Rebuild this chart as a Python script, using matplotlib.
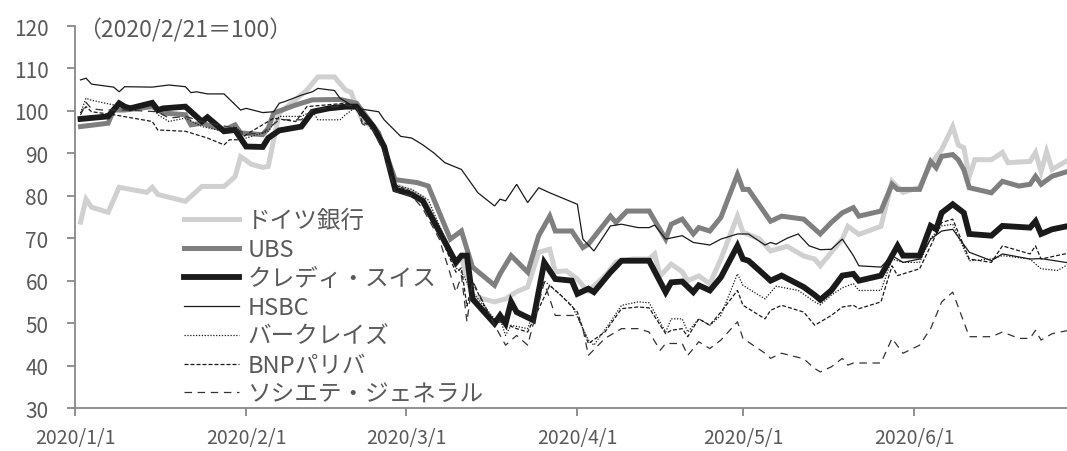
import matplotlib
matplotlib.use("Agg")
import matplotlib.pyplot as plt
import matplotlib.dates as mdates
import pandas as pd

plt.rcParams['font.family'] = ['Noto Sans CJK JP', 'DejaVu Sans']

# ---- data (days since 2020/1/1, index 2020/2/21 = 100) ----
DB_DAY = [1,2,3,6,8,13,14,15,20,23,27,29,30,32,34,35,37,38,42,44,47,49,50,51,52,54,56,58,61,63,66,69,70,72,76,78,80,82,84,86,87,89,91,92,93,96,98,101,104,105,106,108,110,111,113,115,117,120,121,124,126,129,132,134,135,137,139,140,142,146,148,150,153,155,157,159,160,161,162,163,166,168,169,173,174,175,176,177,180]
DB_VAL = [73.8,79.2,77.3,76.1,82.0,80.8,82.0,80.3,78.7,82.2,82.2,84.5,89.2,87.4,86.7,86.9,99.5,100.5,104.9,108.0,108.0,104.9,104.4,101,98,96,91.5,82.5,81,79.5,72,64,65.5,56.4,55.0,55.7,57.4,58.5,66.7,67.4,62.1,62.3,60.4,58.8,57.6,61.1,64.4,65.1,65.1,66.3,61.1,63.9,62.1,60.0,61.1,59.3,65.1,75.2,71.4,69.8,67.0,68.1,65.8,65.1,63.5,66.7,69.8,72.8,70.9,72.8,83.4,80.8,82.0,87.4,90.9,96.3,92.0,91.3,84.5,88.5,88.5,90.2,87.8,88.1,90.2,85.7,90.4,86.2,88.5]

UBS_DAY = [1,6,7,9,14,16,20,21,23,27,29,30,34,35,36,40,43,48,51,55,58,62,64,67,68,70,72,76,77,79,82,84,86,87,90,92,93,97,98,100,104,107,108,110,112,113,115,117,120,121,122,126,128,132,135,137,139,141,142,146,148,149,153,155,156,157,159,160,161,162,166,168,171,173,174,175,177,180]
UBS_VAL = [96.3,97.1,100.2,100.2,101,99.5,99.1,96.7,97.1,95.5,96.7,94.8,94.4,95.9,99.5,101.4,102.6,102.7,101.8,94.8,83.8,83.1,82.3,72.9,69.8,71.7,63.2,58.9,61.6,65.9,62.0,70.6,75.2,71.7,71.7,67.8,68.6,75.2,73.7,76.4,76.4,69.8,73.3,74.5,71.0,72.5,71.7,74.9,85.0,81.5,81.5,74.0,75.2,74.5,71.0,73.7,76.0,77.2,75.2,76.4,82.7,81.5,81.5,88.1,86.6,89.3,89.7,88.5,86.2,81.9,80.7,83.4,82.3,82.7,84.6,82.7,84.6,85.8]

CS_DAY = [1,6,8,9,10,14,15,16,20,23,24,27,29,31,34,35,37,41,43,46,49,51,54,56,58,61,63,69,70,71,72,76,77,78,79,80,83,85,87,90,91,93,94,97,99,102,104,107,108,110,112,113,115,117,120,121,122,125,126,128,132,134,135,137,139,141,142,146,149,150,153,155,156,157,159,161,162,166,168,173,174,175,177,180]
CS_VAL = [98.1,98.7,101.8,101,100.6,101.9,100.2,100.6,101,97.5,98.5,95.2,95.5,91.6,91.5,93.6,95.4,96.3,99.8,100.6,101,101,96.3,91.6,81.5,80.3,78.8,64.3,65.9,65.9,55.7,49.9,51.8,49.9,55.0,52.6,50.7,64.3,60.4,60.0,56.9,58.1,57.3,62.0,64.7,64.7,64.7,57.3,59.6,59.8,57.3,58.9,57.7,60.8,68.2,65.1,64.7,61.2,60.0,61.2,58.5,56.6,55.5,57.7,61.2,61.6,60.0,61.2,68.2,65.9,65.9,72.9,72.1,76.0,78.0,76.0,71.0,70.6,72.9,72.5,74.0,71.0,72.1,72.9]

HSBC_DAY = [1,2,3,7,8,9,14,17,20,21,22,24,27,30,31,34,36,37,38,41,43,44,47,48,51,53,55,56,59,61,63,65,67,70,73,76,77,78,80,82,84,86,91,92,94,97,99,102,104,105,107,110,112,115,117,120,122,125,126,127,129,131,133,135,137,139,141,142,146,148,150,153,155,157,159,162,166,168,173,175,180]
HSBC_VAL = [107.3,107.7,106.3,105.6,104.5,105.7,105.6,106.1,105.7,104.3,104.5,104,104,100.2,100.6,99.6,99.8,101.8,102.2,103.7,104.5,105.3,104.8,103,100.6,100.2,99.8,97.9,94,93.6,92,90.1,87.8,86.2,80.7,77.6,79.2,78.8,82.7,78.4,81.9,80.7,78,69.8,67,72.9,73.3,72.5,72.5,73.1,69.8,70.6,69,68.4,69.8,71,71,68.4,69,68.6,70,71,68.2,67.3,67.4,69.8,65.9,63.5,63.2,65.9,64.3,65.1,69.8,71.7,72.1,66.7,64.7,66.3,65.1,65.2,64.2]

BAR_DAY = [1,2,3,7,9,14,15,17,20,23,27,29,31,35,37,41,43,44,48,49,51,54,56,58,61,64,67,69,70,72,76,77,78,79,82,85,90,93,94,97,99,102,104,107,108,110,111,113,115,117,120,121,125,127,131,134,135,137,139,141,142,146,148,150,153,155,157,159,162,166,168,173,175,178,180]
BAR_VAL = [99.5,103,102.5,101.4,101,101.4,99.1,97.5,98.3,96.3,95.2,96.3,93.6,95.2,98.7,98.7,100,97.9,97.9,99.1,101,97,92.5,82.5,81.5,79,70,63,62,57.3,51,51,47.1,49.5,48.7,60,54.2,46,44.8,50.3,54.2,55,54.8,47.9,51,51,47.9,51,49.5,51.8,61.6,58.9,55.7,58.7,57.7,55,54.3,56.6,58.3,59.3,57.7,57.7,65.1,64.3,64.3,70,72.9,73.3,64.7,65.1,65.9,65.1,62.8,62.4,63.9]

BNP_DAY = [1,2,3,7,14,15,20,24,27,28,30,31,36,40,42,49,51,52,54,56,58,61,63,66,69,70,71,72,76,77,80,82,86,88,91,92,93,96,99,102,104,107,108,110,111,113,115,117,120,121,125,126,128,132,134,137,139,141,142,146,148,149,153,155,157,159,162,166,168,173,174,175,180]
BNP_VAL = [99.5,101,99.8,99.1,97.5,95.5,95.2,93.6,92,93.2,93.2,94.4,98.3,97.5,101,101.8,101,97.5,96,91,82.5,81,79,71,62,63,54,59.6,49.5,50.3,48.7,47.9,58.9,56.6,52.6,48.7,45.2,47.9,53.4,53.8,53.6,47.5,48.3,48.7,46.8,51,49.5,52.6,57.7,54.2,51,53,54.2,52.6,49.5,51.8,53.8,54.2,53.4,55,63.5,61.2,62.8,68.2,73.7,74.5,65.1,64.3,68.2,66.3,68.2,65.1,66.5]

SG_DAY = [1,2,3,5,9,15,17,20,23,29,31,34,37,41,43,47,49,51,52,54,56,58,61,63,66,69,70,71,72,76,78,80,82,85,87,91,92,93,96,99,102,104,106,107,110,111,113,115,117,120,121,125,126,128,132,134,135,137,139,140,141,146,148,150,153,155,157,159,162,166,168,171,173,174,175,177,180]
SG_VAL = [99,102,100.5,100.2,100.2,99.8,98.3,98.7,97.5,95.9,94.5,94.8,97.9,97.9,100.2,101,101.4,101,97,95.5,90,81,80,77,69.8,57.3,61.2,50.3,60,49.5,44.8,47.1,44.8,59.6,51.8,51.8,48.7,42.4,46.4,48.7,48.7,47.9,43.6,45.2,45.2,42.4,45.6,44,46,50.3,46.4,42.9,41.7,42.9,41.6,39.3,38.5,39.7,41.7,40.1,40.6,40.6,46.4,42.9,44.8,48.7,55,57.3,46.8,46.8,47.9,46.4,46.4,48.3,46,47.5,48.3]

LABELS = ["ドイツ銀行", "UBS", "クレディ・スイス", "HSBC", "バークレイズ", "BNPパリバ", "ソシエテ・ジェネラル"]
X_TICKS = ["2020-01-01", "2020-02-01", "2020-03-01", "2020-04-01", "2020-05-01", "2020-06-01"]
X_TICK_LABELS = ["2020/1/1", "2020/2/1", "2020/3/1", "2020/4/1", "2020/5/1", "2020/6/1"]
Y_TICKS = [30, 40, 50, 60, 70, 80, 90, 100, 110, 120]
NOTE = "（2020/2/21＝100）"
ORIGIN = "2020-01-01"

W, H = 1067, 452
fig = plt.figure(figsize=(W / 100, H / 100), dpi=100)
ax = fig.add_axes([75 / W, 1 - 409 / H, (W - 75) / W, (409 - 27) / H])

origin = pd.Timestamp(ORIGIN)
def to_dates(days):
    return [origin + pd.Timedelta(days=d) for d in days]

styles = [
    (DB_DAY, DB_VAL, dict(color="#d0d0d0", lw=3.6, ls="-")),
    (UBS_DAY, UBS_VAL, dict(color="#7f7f7f", lw=3.6, ls="-")),
    (CS_DAY, CS_VAL, dict(color="#1a1a1a", lw=4.2, ls="-")),
    (HSBC_DAY, HSBC_VAL, dict(color="#1a1a1a", lw=0.9, ls="-")),
    (BAR_DAY, BAR_VAL, dict(color="#1a1a1a", lw=0.9, ls=(0, (1, 1.3)))),
    (BNP_DAY, BNP_VAL, dict(color="#1a1a1a", lw=0.9, ls=(0, (3.2, 1.6)))),
    (SG_DAY, SG_VAL, dict(color="#333333", lw=0.9, ls=(0, (6, 4.5)))),
]
for (days, vals, st), lab in zip(styles, LABELS):
    ax.plot(to_dates(days), vals, label=lab, solid_joinstyle="miter", **st)

ax.set_ylim(30, 120)
ax.set_yticks(Y_TICKS)
ax.set_xlim(mdates.date2num(origin), mdates.date2num(origin) + 179.7)
ax.set_xticks([mdates.date2num(pd.Timestamp(t)) for t in X_TICKS])
ax.set_xticklabels(X_TICK_LABELS)

for s in ["top", "right"]:
    ax.spines[s].set_visible(False)
for s in ["left", "bottom"]:
    ax.spines[s].set_color("#888888")
    ax.spines[s].set_linewidth(1.3)
ax.tick_params(axis="both", colors="#888888", width=1.3, length=6, direction="out",
               labelcolor="#595959")
ax.tick_params(axis="y", pad=13, labelsize=15)
ax.tick_params(axis="x", pad=8, labelsize=14)

leg = ax.legend(loc="upper left", bbox_to_anchor=(0.1, 0.545), frameon=False,
                fontsize=17, handlelength=2.35, handletextpad=0.34,
                labelspacing=0.25, borderaxespad=0)
for t in leg.get_texts():
    t.set_color("#595959")

fig.text(78 / W, 1 - 30 / H, NOTE, fontsize=16.5, color="#595959", va="center", ha="left")

fig.savefig("out.png", dpi=100)
